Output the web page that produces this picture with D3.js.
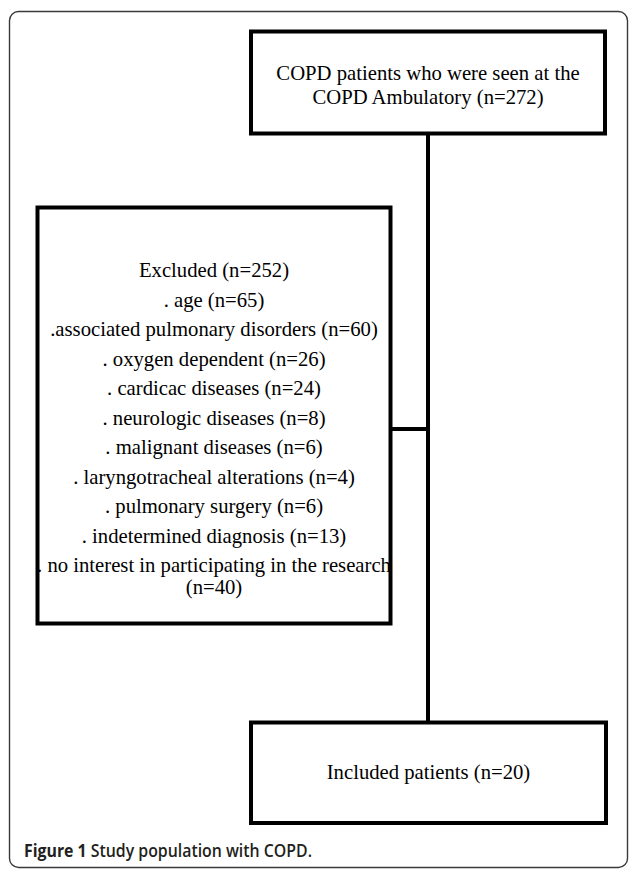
<!DOCTYPE html>
<html>
<head>
<meta charset="utf-8">
<script src="https://cdn.jsdelivr.net/npm/d3@7"></script>
<style>
  html, body { margin: 0; padding: 0; background: #fff; }
  svg { display: block; }
</style>
</head>
<body>
<script>
// ---- data ----
const sourceLines = ["COPD patients who were seen at the", "COPD Ambulatory (n=272)"];
const excludedTitle = "Excluded (n=252)";
const excludedLabels = [". age", ".associated pulmonary disorders", ". oxygen dependent", ". cardicac diseases",
  ". neurologic diseases", ". malignant diseases", ". laryngotracheal alterations", ". pulmonary surgery",
  ". indetermined diagnosis", ". no interest in participating in the research"];
const excludedCounts = [65, 60, 26, 24, 8, 6, 4, 6, 13, 40];
const includedLabel = "Included patients";
const includedCount = 20;
const captionBold = "Figure 1";
const captionText = "Study population with COPD.";

// ---- layout ----
const W = 629, H = 870;
const svg = d3.select("body").append("svg").attr("width", W).attr("height", H);

// outer frame
svg.append("rect").attr("x", 9.5).attr("y", 11.5).attr("width", 618).attr("height", 856)
  .attr("rx", 9).attr("ry", 9).attr("fill", "none").attr("stroke", "#3a3a3a").attr("stroke-width", 1.4);

const serif = "'Liberation Serif', 'Times New Roman', serif";
const fs = 20.7;
const boxes = [
  { key: "top", x: 251, y: 31.5, w: 354, h: 102 },
  { key: "left", x: 37.5, y: 207.5, w: 353, h: 416 },
  { key: "bottom", x: 251, y: 722.5, w: 355, h: 100.5 }
];
const bx = Object.fromEntries(boxes.map(b => [b.key, b]));
const cx = bx.top.x + bx.top.w / 2;

// connectors
const g = svg.append("g");
g.append("line").attr("x1", cx).attr("x2", cx).attr("y1", bx.top.y + bx.top.h).attr("y2", bx.bottom.y)
  .attr("stroke", "#000").attr("stroke-width", 4);
g.append("line").attr("x1", bx.left.x + bx.left.w).attr("x2", cx).attr("y1", 429).attr("y2", 429)
  .attr("stroke", "#000").attr("stroke-width", 4);

g.selectAll("rect.box").data(boxes).join("rect").attr("class", "box")
  .attr("x", d => d.x).attr("y", d => d.y).attr("width", d => d.w).attr("height", d => d.h)
  .attr("fill", "#fff").attr("stroke", "#000").attr("stroke-width", 4);

// top text
svg.append("g").selectAll("text").data(sourceLines).join("text")
  .attr("x", cx).attr("y", (d, i) => 80 + i * 24)
  .attr("text-anchor", "middle").attr("font-family", serif).attr("font-size", fs).attr("fill", "#000")
  .text(d => d);

// left text
const lcx = bx.left.x + bx.left.w / 2;
const leftLines = [excludedTitle].concat(excludedLabels.map((l, i) => `${l} (n=${excludedCounts[i]})`));
const y0 = 277, dy = 29.5;
const lastIdx = leftLines.length - 1;
const lt = svg.append("g");
leftLines.forEach((t, i) => {
  if (i === lastIdx) {
    const m = t.lastIndexOf(" (");
    lt.append("text").attr("x", lcx).attr("y", y0 + i * dy).attr("text-anchor", "middle")
      .attr("font-family", serif).attr("font-size", fs).text(t.slice(0, m));
    lt.append("text").attr("x", lcx).attr("y", y0 + i * dy + 22).attr("text-anchor", "middle")
      .attr("font-family", serif).attr("font-size", fs).text(t.slice(m + 1));
  } else {
    lt.append("text").attr("x", lcx).attr("y", y0 + i * dy).attr("text-anchor", "middle")
      .attr("font-family", serif).attr("font-size", fs).text(t);
  }
});

// bottom text
svg.append("text").attr("x", bx.bottom.x + bx.bottom.w / 2).attr("y", 779)
  .attr("text-anchor", "middle").attr("font-family", serif).attr("font-size", fs)
  .text(`${includedLabel} (n=${includedCount})`);

// caption
const cap = svg.append("text").attr("x", 24).attr("y", 857)
  .attr("font-family", "'Open Sans', 'Noto Sans', sans-serif").attr("font-size", 17.5).attr("fill", "#231f20")
  .attr("textLength", 288).attr("lengthAdjust", "spacingAndGlyphs");
cap.append("tspan").attr("font-weight", "bold").text(captionBold + " ");
cap.append("tspan").attr("font-weight", "600").text(captionText);
</script>
</body>
</html>
